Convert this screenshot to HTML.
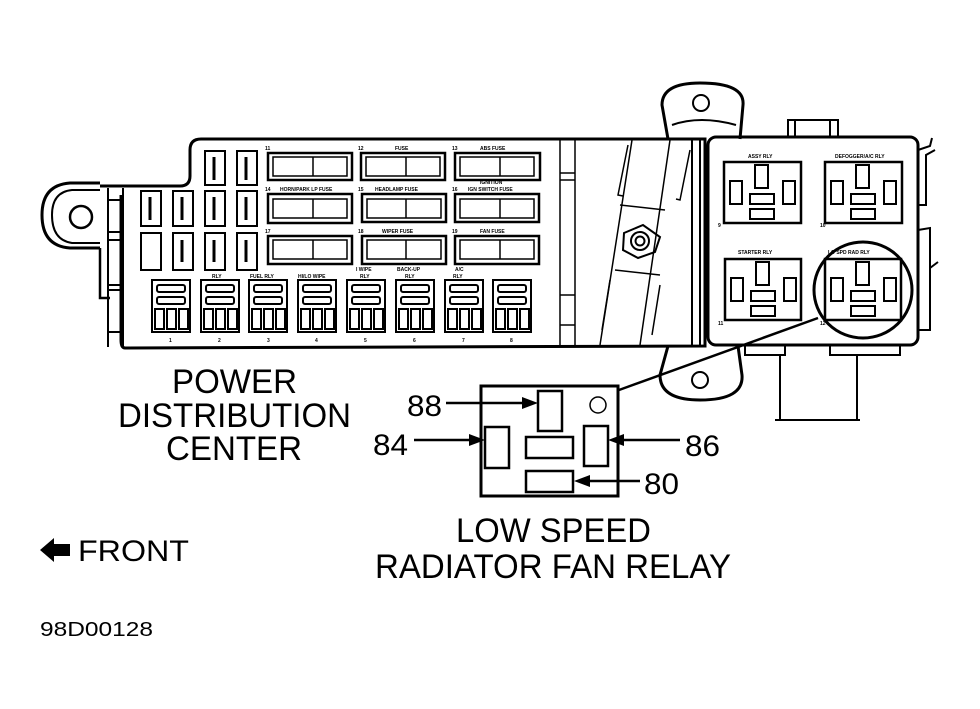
<!DOCTYPE html>
<html><head><style>
body{margin:0;background:#fff;}
svg{display:block;}
text{font-family:"Liberation Sans",sans-serif;fill:#000;}
.t{font-size:5px;font-weight:bold;}
</style></head><body>
<svg width="980" height="709" viewBox="0 0 980 709" xmlns="http://www.w3.org/2000/svg" fill="none" stroke="#000" stroke-width="2">
<!-- left ear -->
<path d="M100,183 L70,183 Q42,185 42,215 Q42,246 70,248 L100,248" stroke-width="3"/>
<path d="M100,190 L72,190 Q52,192 52,215 Q52,240 72,243 L100,243"/>
<circle cx="81" cy="217" r="11" stroke-width="2.5"/>
<path d="M100,248 L100,298 L110,298" stroke-width="2.5"/>
<path d="M108,188 L108,347 M123,188 L123,347" stroke-width="2"/>
<path d="M108,200 L123,200 M108,232 L123,232 M108,240 L123,240 M108,285 L123,285 M108,290 L123,290 M108,332 L123,332"/>
<!-- main body outline -->
<path d="M110,186 L180,186 Q190,186 190,176 L190,150 Q190,139 201,139 L705,139 L705,346 L125,348 Q121,348 121,340 L121,195" stroke-width="3"/>
<path d="M100,186 L125,186" stroke-width="3"/>
<path d="M560,139 L560,346 M575,139 L575,346 M560,173 L575,173 M560,180 L575,180 M560,295 L575,295 M560,325 L575,325" stroke-width="1.5"/>
<path d="M692,140 L692,345 M700,140 L700,345" stroke-width="2"/>
<!-- strap -->
<path d="M632,140 L600,345 M670,140 L640,345" stroke-width="1.5"/>
<path d="M628,145 L618,195 L623,196 M690,150 L680,200 L676,199" stroke-width="1.5"/>
<path d="M620,205 L665,210 M615,270 L660,275" stroke-width="1.5"/>
<path d="M610,280 L602,330 M660,285 L652,335" stroke-width="1.5"/>
<polygon points="624,233 643,225 660,237 655,252 638,258 623,250" stroke-width="2"/>
<circle cx="640" cy="241" r="9"/><circle cx="640" cy="241" r="4.5"/>
<!-- ears -->
<path d="M668,139 L662,105 Q662,83 700,83 Q745,83 743,105 L740,139" stroke-width="3"/>
<path d="M672,125 Q700,115 736,125" />
<circle cx="701" cy="103" r="8" stroke-width="2"/>
<path d="M668,346 L660,375 Q660,400 700,400 Q744,400 742,375 L738,346" stroke-width="3"/>
<circle cx="700" cy="380" r="8" stroke-width="2"/>
<!-- right box -->
<rect x="708" y="137" width="210" height="208" rx="8" stroke-width="3"/>
<path d="M788,137 L788,120 L838,120 L838,137 M795,120 L795,137 M830,120 L830,137" stroke-width="2"/>
<path d="M918,150 L930,146 L932,138 M918,205 L926,205 L926,155 L935,150 M918,230 L930,228 L930,330 L918,330 M930,268 L938,262" stroke-width="2"/>
<path d="M745,345 L745,355 L785,355 L785,345 M780,355 L780,420 M830,345 L830,355 L900,355 L900,345 M857,355 L857,420 M775,420 L860,420" stroke-width="2"/>
<g stroke-width="2.5">
<rect x="724" y="162" width="77" height="61"/><rect x="825" y="162" width="77" height="61"/>
<rect x="725" y="259" width="76" height="61"/><rect x="825" y="259" width="76" height="61"/>
</g>
<g stroke-width="2">
<rect x="755" y="165" width="13" height="23"/><rect x="730" y="181" width="12" height="23"/><rect x="783" y="181" width="12" height="23"/><rect x="750" y="194" width="24" height="10"/><rect x="750" y="209" width="24" height="10"/>
<rect x="856" y="165" width="13" height="23"/><rect x="831" y="181" width="12" height="23"/><rect x="884" y="181" width="12" height="23"/><rect x="851" y="194" width="24" height="10"/><rect x="851" y="209" width="24" height="10"/>
<rect x="756" y="262" width="13" height="23"/><rect x="731" y="278" width="12" height="23"/><rect x="784" y="278" width="12" height="23"/><rect x="751" y="291" width="24" height="10"/><rect x="751" y="306" width="24" height="10"/>
<rect x="856" y="262" width="13" height="23"/><rect x="831" y="278" width="12" height="23"/><rect x="884" y="278" width="12" height="23"/><rect x="851" y="291" width="24" height="10"/><rect x="851" y="306" width="24" height="10"/>
</g>
<ellipse cx="863" cy="290" rx="49" ry="48" stroke-width="3"/>
<g stroke="none">
<text class="t" x="748" y="158">ASSY RLY</text><text class="t" x="835" y="158">DEFOGGER/A/C RLY</text>
<text class="t" x="738" y="254">STARTER RLY</text><text class="t" x="828" y="254">LO SPD RAD RLY</text>
<text class="t" x="718" y="227">9</text><text class="t" x="820" y="227">10</text><text class="t" x="718" y="325">11</text><text class="t" x="820" y="325">12</text>
</g>
<!-- big fuses -->
<g stroke-width="2.5">
<rect x="268" y="153" width="84" height="27"/><rect x="361" y="153" width="84" height="27"/><rect x="455" y="153" width="85" height="27"/>
<rect x="268" y="194" width="84" height="29"/><rect x="362" y="194" width="84" height="28"/><rect x="455" y="194" width="84" height="28"/>
<rect x="268" y="236" width="84" height="28"/><rect x="362" y="236" width="84" height="28"/><rect x="455" y="236" width="84" height="28"/>
</g>
<g stroke-width="1.5">
<rect x="273" y="157" width="74" height="19"/><path d="M313,157 L313,176"/>
<rect x="366" y="157" width="74" height="19"/><path d="M406,157 L406,176"/>
<rect x="460" y="157" width="74" height="19"/><path d="M500,157 L500,176"/>
<rect x="273" y="199" width="74" height="19"/><path d="M313,199 L313,218"/>
<rect x="367" y="199" width="74" height="19"/><path d="M406,199 L406,218"/>
<rect x="460" y="199" width="74" height="19"/><path d="M500,199 L500,218"/>
<rect x="273" y="240" width="74" height="19"/><path d="M313,240 L313,259"/>
<rect x="367" y="240" width="74" height="19"/><path d="M406,240 L406,259"/>
<rect x="460" y="240" width="74" height="19"/><path d="M500,240 L500,259"/>
</g>
<g stroke="none">
<text class="t" x="265" y="150">11</text><text class="t" x="358" y="150">12</text><text class="t" x="395" y="150">FUSE</text><text class="t" x="452" y="150">13</text><text class="t" x="480" y="150">ABS FUSE</text>
<text class="t" x="265" y="191">14</text><text class="t" x="280" y="191">HORN/PARK LP FUSE</text><text class="t" x="358" y="191">15</text><text class="t" x="375" y="191">HEADLAMP FUSE</text><text class="t" x="452" y="191">16</text><text class="t" x="468" y="191">IGN SWITCH FUSE</text><text class="t" x="480" y="184">IGNITION</text>
<text class="t" x="265" y="233">17</text><text class="t" x="358" y="233">18</text><text class="t" x="382" y="233">WIPER FUSE</text><text class="t" x="452" y="233">19</text><text class="t" x="480" y="233">FAN FUSE</text>
</g>
<!-- small fuses -->
<g stroke-width="2">
<rect x="205" y="151" width="20" height="34"/><rect x="237" y="151" width="20" height="34"/>
<rect x="141" y="191" width="20" height="35"/><rect x="173" y="191" width="20" height="35"/><rect x="205" y="191" width="20" height="35"/><rect x="237" y="191" width="20" height="35"/>
<rect x="141" y="233" width="20" height="37"/><rect x="173" y="233" width="20" height="37"/><rect x="205" y="233" width="20" height="37"/><rect x="237" y="233" width="20" height="37"/>
</g>
<g stroke-width="3">
<path d="M150,197 L150,220 M182,197 L182,220 M214,157 L214,180 M246,157 L246,180 M214,197 L214,220 M246,197 L246,220 M182,240 L182,262 M214,240 L214,262 M246,240 L246,262"/>
</g>
<!-- relays 1-8 -->
<g id="rl" stroke-width="2">
<rect x="152" y="280" width="38" height="52"/>
<rect x="157" y="285" width="28" height="7" rx="2"/>
<rect x="157" y="297" width="28" height="7" rx="2"/>
<rect x="155" y="309" width="9" height="20"/><rect x="167" y="309" width="9" height="20"/><rect x="179" y="309" width="9" height="20"/>
</g>
<use href="#rl" x="49"/><use href="#rl" x="97"/><use href="#rl" x="146"/><use href="#rl" x="195"/><use href="#rl" x="244"/><use href="#rl" x="293"/><use href="#rl" x="341"/>
<g stroke="none">
<text class="t" x="212" y="278">RLY</text><text class="t" x="250" y="278">FUEL RLY</text><text class="t" x="298" y="278">HI/LO WIPE</text><text class="t" x="356" y="271">I WIPE</text><text class="t" x="360" y="278">RLY</text><text class="t" x="397" y="271">BACK-UP</text><text class="t" x="405" y="278">RLY</text><text class="t" x="455" y="271">A/C</text><text class="t" x="453" y="278">RLY</text>
<text class="t" x="169" y="342">1</text><text class="t" x="218" y="342">2</text><text class="t" x="267" y="342">3</text><text class="t" x="315" y="342">4</text><text class="t" x="364" y="342">5</text><text class="t" x="413" y="342">6</text><text class="t" x="462" y="342">7</text><text class="t" x="510" y="342">8</text>
</g>
<path d="M619,390 L818,318" stroke-width="2.5"/>
<rect x="481" y="386" width="137" height="110" stroke-width="3"/>
<g stroke-width="2.5">
<rect x="538" y="391" width="24" height="40"/>
<rect x="485" y="427" width="24" height="41"/>
<rect x="526" y="437" width="47" height="21"/>
<rect x="584" y="426" width="24" height="40"/>
<rect x="526" y="471" width="47" height="21"/>
</g>
<circle cx="598" cy="405" r="8" stroke-width="1.5"/>
<g stroke-width="2.5">
<path d="M446,403 L528,403"/><path d="M414,440 L475,440"/><path d="M680,440 L618,440"/><path d="M640,481 L585,481"/>
</g>
<g fill="#000" stroke="none">
<polygon points="538,403 522,397 522,409"/>
<polygon points="485,440 469,434 469,446"/>
<polygon points="608,440 624,434 624,446"/>
<polygon points="574,481 590,475 590,487"/>
<text x="407" y="416" font-size="30" textLength="35" lengthAdjust="spacingAndGlyphs">88</text>
<text x="373" y="455" font-size="30" textLength="35" lengthAdjust="spacingAndGlyphs">84</text>
<text x="685" y="456" font-size="30" textLength="35" lengthAdjust="spacingAndGlyphs">86</text>
<text x="644" y="494" font-size="30" textLength="35" lengthAdjust="spacingAndGlyphs">80</text>
<text x="172" y="393" font-size="34" textLength="125" lengthAdjust="spacingAndGlyphs">POWER</text>
<text x="118" y="427" font-size="34" textLength="233" lengthAdjust="spacingAndGlyphs">DISTRIBUTION</text>
<text x="166" y="460" font-size="34" textLength="136" lengthAdjust="spacingAndGlyphs">CENTER</text>
<text x="456" y="542" font-size="34" textLength="195" lengthAdjust="spacingAndGlyphs">LOW SPEED</text>
<text x="375" y="578" font-size="34" textLength="356" lengthAdjust="spacingAndGlyphs">RADIATOR FAN RELAY</text>
<polygon points="40,550 54,538 54,544 70,544 70,556 54,556 54,562"/>
<text x="78" y="561" font-size="30" textLength="111" lengthAdjust="spacingAndGlyphs">FRONT</text>
<text x="40" y="636" font-size="20" textLength="113" lengthAdjust="spacingAndGlyphs">98D00128</text>
</g>
</svg>
</body></html>
